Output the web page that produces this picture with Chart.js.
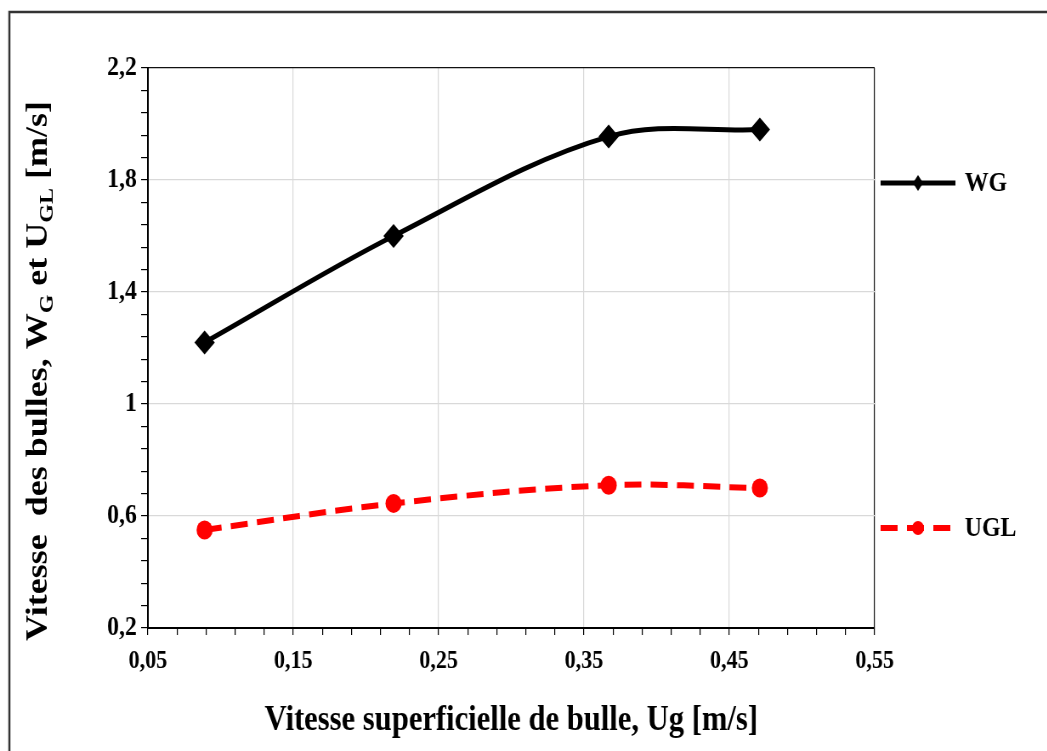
<!DOCTYPE html>
<html>
<head>
<meta charset="utf-8">
<script src="https://cdn.jsdelivr.net/npm/chart.js@4.4.1/dist/chart.umd.min.js"></script>
<style>
  html, body { margin: 0; padding: 0; background: #fff; overflow: hidden; }
  /* the original figure is squeezed horizontally, so draw wider and squeeze */
  #wrap { width: 1232px; height: 751px; transform: scaleX(0.85); transform-origin: 0 0; }
</style>
</head>
<body>
<div id="wrap"><canvas id="chart" width="1232" height="751"></canvas></div>
<script>
// values
var ug  = [0.089, 0.219, 0.367, 0.471];
var wg  = [1.22, 1.60, 1.955, 1.98];
var ugl = [0.55, 0.645, 0.71, 0.70];

var xTicks = [0.05, 0.15, 0.25, 0.35, 0.45, 0.55];
var yTicks = [0.2, 0.6, 1, 1.4, 1.8, 2.2];

var serif = '"Liberation Serif", "Times New Roman", serif';

function pts(ys) {
  return ug.map(function (x, i) { return { x: x, y: ys[i] }; });
}

// major ticks plus 4 minor ticks in between
function withMinor(major) {
  var out = [];
  for (var i = 0; i < major.length - 1; i++) {
    var step = (major[i + 1] - major[i]) / 5;
    for (var k = 0; k < 5; k++) {
      out.push({ value: +(major[i] + k * step).toFixed(4), minor: k !== 0 });
    }
  }
  out.push({ value: major[major.length - 1], minor: false });
  return out;
}

function label(v, i, ticks) {
  if (ticks[i].minor) return '';
  return String(+v.toFixed(2)).replace('.', ',');
}

function gridColor(max) {
  return function (c) {
    if (!c.tick || c.tick.minor) return 'rgba(0,0,0,0)';
    if (Math.abs(c.tick.value - max) < 1e-6) return '#111';
    return '#d9d9d9';
  };
}

var decor = {
  id: 'decor',
  beforeDraw: function (chart) {
    var ctx = chart.ctx;
    ctx.save();
    ctx.fillStyle = '#fff';
    ctx.fillRect(0, 0, chart.width, chart.height);
    ctx.strokeStyle = '#333';
    ctx.lineWidth = 2.5;
    ctx.strokeRect(11, 12, chart.width + 20, chart.height + 20);
    ctx.restore();
  },
  afterDraw: function (chart) {
    var ctx = chart.ctx;
    ctx.save();

    // y axis title with subscripts
    var parts = [['Vitesse  des bulles, W', false], ['G', true], [' et U', false], ['GL', true], [' [m/s]', false]];
    var big = 'bold 36px ' + serif, small = 'bold 24px ' + serif;
    var total = 0;
    parts.forEach(function (p) { ctx.font = p[1] ? small : big; total += ctx.measureText(p[0]).width; });
    ctx.translate(55, 371);
    ctx.rotate(-Math.PI / 2);
    ctx.fillStyle = '#000';
    ctx.textBaseline = 'alphabetic';
    var x = -total / 2;
    parts.forEach(function (p) {
      ctx.font = p[1] ? small : big;
      ctx.fillText(p[0], x, p[1] ? 7 : 0);
      x += ctx.measureText(p[0]).width;
    });
    ctx.restore();

    // legend on the right
    var items = [{ ds: 0, y: 183 }, { ds: 1, y: 528 }];
    items.forEach(function (it) {
      var ds = chart.data.datasets[it.ds];
      var x0 = 1036, x1 = 1124, xm = (x0 + x1) / 2;
      ctx.save();
      ctx.strokeStyle = ds.borderColor;
      ctx.lineWidth = ds.borderWidth;
      ctx.setLineDash(ds.borderDash || []);
      ctx.beginPath();
      ctx.moveTo(x0, it.y);
      ctx.lineTo(x1, it.y);
      ctx.stroke();
      ctx.setLineDash([]);
      ctx.fillStyle = ds.pointBackgroundColor;
      ctx.beginPath();
      if (ds.pointStyle === 'rectRot') {
        ctx.moveTo(xm, it.y - 8);
        ctx.lineTo(xm + 6, it.y);
        ctx.lineTo(xm, it.y + 8);
        ctx.lineTo(xm - 6, it.y);
      } else {
        ctx.arc(xm, it.y, 7, 0, Math.PI * 2);
      }
      ctx.closePath();
      ctx.fill();
      ctx.fillStyle = '#000';
      ctx.font = 'bold 28px ' + serif;
      ctx.textBaseline = 'middle';
      ctx.fillText(ds.label, x1 + 11, it.y + 1);
      ctx.restore();
    });
  }
};

new Chart(document.getElementById('chart'), {
  type: 'line',
  data: {
    datasets: [{
      label: 'WG',
      data: pts(wg),
      borderColor: '#000',
      borderWidth: 5,
      tension: 0.35,
      pointStyle: 'rectRot',
      pointRadius: 12,
      pointBackgroundColor: '#000',
      pointBorderColor: '#000',
      pointBorderWidth: 0
    }, {
      label: 'UGL',
      data: pts(ugl),
      borderColor: '#ff0000',
      borderWidth: 6,
      borderDash: [20, 11],
      tension: 0.35,
      pointStyle: 'circle',
      pointRadius: 9.5,
      pointBackgroundColor: '#ff0000',
      pointBorderColor: '#ff0000',
      pointBorderWidth: 0
    }]
  },
  options: {
    responsive: false,
    animation: false,
    layout: { padding: { top: 68, right: 203, left: 0, bottom: 0 } },
    plugins: { legend: { display: false }, tooltip: { enabled: false } },
    scales: {
      x: {
        type: 'linear',
        min: 0.05,
        max: 0.55,
        afterBuildTicks: function (s) { s.ticks = withMinor(xTicks); },
        afterFit: function (s) { s.height = 123; },
        grid: { color: gridColor(0.55), tickColor: '#000', tickLength: 7, lineWidth: 1.2 },
        border: { color: '#000', width: 2 },
        ticks: {
          autoSkip: false, maxRotation: 0, padding: 11,
          color: '#000', font: { family: serif, size: 26, weight: 'bold' },
          callback: label
        },
        title: {
          display: true,
          text: 'Vitesse superficielle de bulle, Ug [m/s]',
          color: '#000',
          font: { family: serif, size: 36, weight: 'bold' },
          padding: { top: 0, bottom: 9 }
        }
      },
      y: {
        min: 0.2,
        max: 2.2,
        afterBuildTicks: function (s) { s.ticks = withMinor(yTicks); },
        afterFit: function (s) { s.width = 174; },
        grid: { color: gridColor(2.2), tickColor: '#000', tickLength: 8, lineWidth: 1.2 },
        border: { color: '#000', width: 2 },
        ticks: {
          autoSkip: false, padding: 5,
          color: '#000', font: { family: serif, size: 28, weight: 'bold' },
          callback: label
        }
      }
    }
  },
  plugins: [decor]
});
</script>
</body>
</html>
